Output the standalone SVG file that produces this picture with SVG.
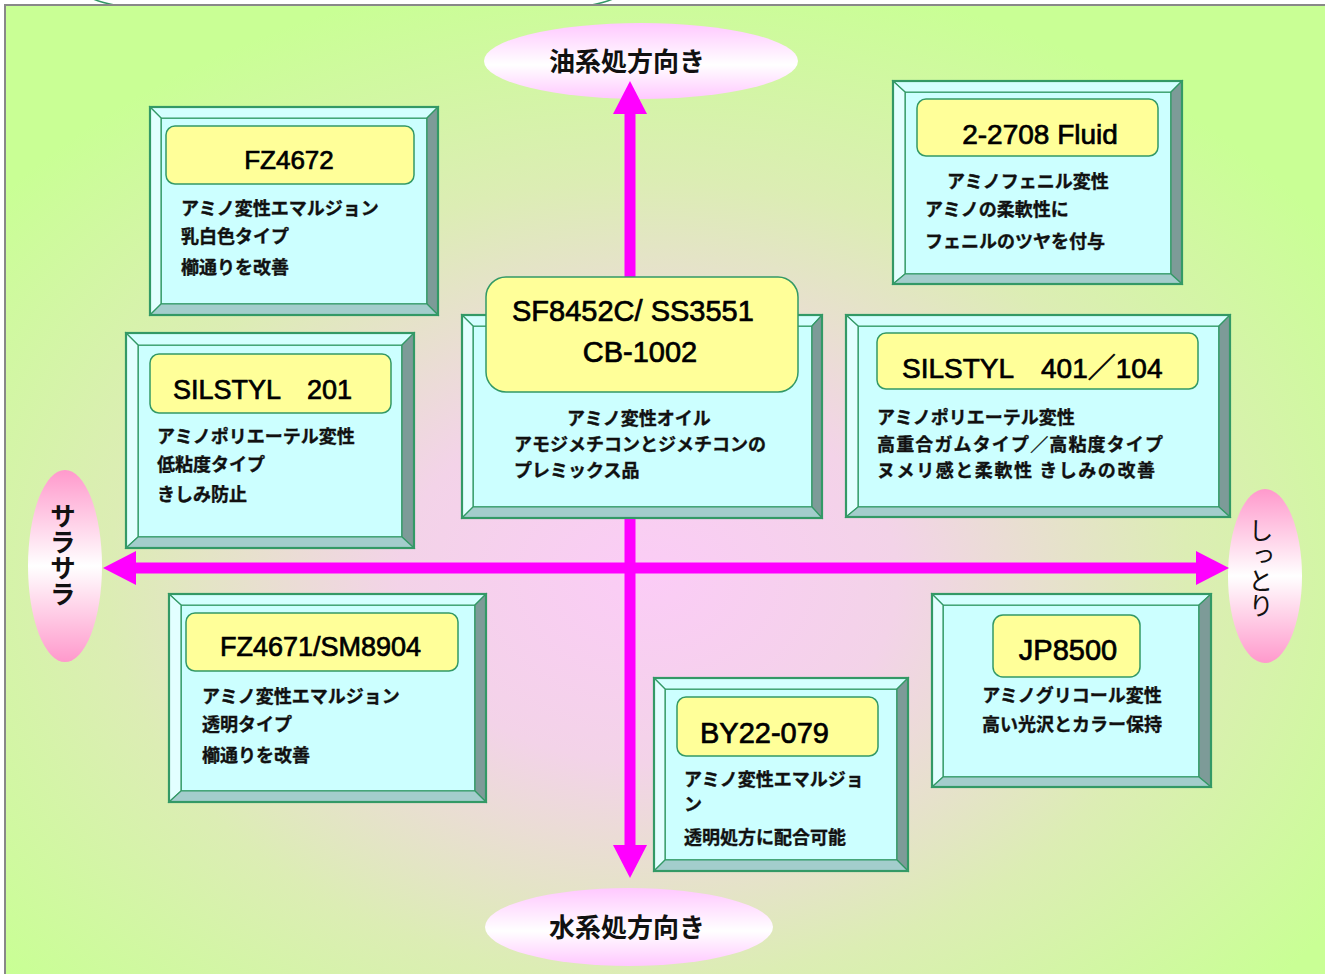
<svg xmlns="http://www.w3.org/2000/svg" width="1325" height="974" viewBox="0 0 1325 974">
<defs>
<radialGradient id="bg" cx="0.48" cy="0.58" r="0.62">
<stop offset="0" stop-color="#fbccf6"/>
<stop offset="0.3" stop-color="#f3d3e8"/>
<stop offset="0.65" stop-color="#dcedb4"/>
<stop offset="1" stop-color="#c9ff95"/>
</radialGradient>
<linearGradient id="ellH" x1="0" y1="0" x2="0" y2="1">
<stop offset="0" stop-color="#ffc8ff"/>
<stop offset="0.55" stop-color="#ffffff"/>
<stop offset="1" stop-color="#ffc8ff"/>
</linearGradient>
<linearGradient id="ellV" x1="0" y1="0" x2="0" y2="1">
<stop offset="0" stop-color="#ff99cc"/>
<stop offset="0.5" stop-color="#ffffff"/>
<stop offset="1" stop-color="#ff99cc"/>
</linearGradient>
<marker id="head" markerUnits="userSpaceOnUse" markerWidth="34" markerHeight="36" viewBox="0 0 34 36" refX="0" refY="18" orient="auto-start-reverse">
<path d="M0,1 L33,18 L0,35 Z" fill="#ff00ff"/>
</marker>
</defs>
<style>
.face{fill:#ccffff;stroke:#339966;stroke-width:1.5}
.bt{fill:#d4ffff;stroke:#339966;stroke-width:1.2}
.bl{fill:#e2ffff;stroke:#339966;stroke-width:1.2}
.br{fill:#7d9b98;stroke:#339966;stroke-width:1.2}
.bb{fill:#a3cdcc;stroke:#339966;stroke-width:1.2}
.outer{fill:none;stroke:#339966;stroke-width:2.2}
.lab{fill:#ffff99;stroke:#339966;stroke-width:1.5}
.ttl{font-family:"Liberation Sans","Noto Sans CJK JP",sans-serif;fill:#000;stroke:#000;stroke-width:0.7}
.body{font-family:"Noto Sans CJK JP",sans-serif;font-weight:bold;font-size:18px;fill:#111;stroke:#111;stroke-width:0.35}
.ell{font-family:"Noto Sans CJK JP",sans-serif;font-weight:bold;fill:#111}
.arrow{stroke:#ff00ff;stroke-width:11;fill:none}
</style>

<g id="background">
<rect x="0" y="0" width="1325" height="974" fill="#ffffff"/>
<ellipse cx="353" cy="-6" rx="265" ry="25" fill="none" stroke="#339966" stroke-width="1.5"/>
<rect x="5" y="5" width="1340" height="990" fill="url(#bg)" stroke="#888888" stroke-width="2"/>
</g>

<g id="n-oil">
<ellipse cx="641" cy="61" rx="157" ry="38" fill="url(#ellH)"/>
<text class="ell" x="627" y="71" font-size="26" text-anchor="middle">油系処方向き</text>
</g>
<g id="n-water">
<ellipse cx="629" cy="927" rx="144" ry="39" fill="url(#ellH)"/>
<text class="ell" x="627" y="937" font-size="26" text-anchor="middle">水系処方向き</text>
</g>
<g id="n-sarasara">
<ellipse cx="65" cy="566" rx="37" ry="96" fill="url(#ellV)"/>
<text class="ell" x="63" y="555" font-size="26" text-anchor="middle" style="writing-mode:vertical-rl">サラサラ</text>
</g>
<g id="n-shittori">
<ellipse cx="1265" cy="576" rx="37" ry="87" fill="url(#ellV)"/>
<text class="ell" x="1261" y="568" font-size="25" text-anchor="middle" style="writing-mode:vertical-rl;font-weight:normal">しっとり</text>
</g>

<g id="connectors">
<line class="arrow" x1="630" y1="114" x2="630" y2="845" marker-start="url(#head)" marker-end="url(#head)"/>
<line class="arrow" x1="136" y1="568" x2="1196" y2="568" marker-start="url(#head)" marker-end="url(#head)"/>
</g>

<g id="n-fz4672">
<rect class="face" x="161" y="118" width="266" height="186"/>
<path class="bt" d="M150,107 L438,107 L427,118 L161,118 Z"/>
<path class="bl" d="M150,107 L161,118 L161,304 L150,315 Z"/>
<path class="br" d="M438,107 L438,315 L427,304 L427,118 Z"/>
<path class="bb" d="M150,315 L161,304 L427,304 L438,315 Z"/>
<rect class="outer" x="150" y="107" width="288" height="208"/>
<rect class="lab" x="166" y="126" width="248" height="58" rx="9"/>
<text class="ttl" x="289" y="169" font-size="26" text-anchor="middle">FZ4672</text>
<text class="body" x="181" y="215">アミノ変性エマルジョン</text>
<text class="body" x="181" y="243">乳白色タイプ</text>
<text class="body" x="181" y="274">櫛通りを改善</text>
</g>

<g id="n-22708">
<rect class="face" x="905" y="92" width="266" height="182"/>
<path class="bt" d="M893,81 L1182,81 L1171,92 L905,92 Z"/>
<path class="bl" d="M893,81 L905,92 L905,274 L893,284 Z"/>
<path class="br" d="M1182,81 L1182,284 L1171,274 L1171,92 Z"/>
<path class="bb" d="M893,284 L905,274 L1171,274 L1182,284 Z"/>
<rect class="outer" x="893" y="81" width="289" height="203"/>
<rect class="lab" x="917" y="99" width="241" height="57" rx="9"/>
<text class="ttl" x="1040" y="144" font-size="28" text-anchor="middle">2-2708 Fluid</text>
<text class="body" x="947" y="188">アミノフェニル変性</text>
<text class="body" x="925" y="216">アミノの柔軟性に</text>
<text class="body" x="925" y="248">フェニルのツヤを付与</text>
</g>

<g id="n-sf8452c">
<rect class="face" x="473" y="326" width="339" height="181"/>
<path class="bt" d="M462,315 L822,315 L812,326 L473,326 Z"/>
<path class="bl" d="M462,315 L473,326 L473,507 L462,518 Z"/>
<path class="br" d="M822,315 L822,518 L812,507 L812,326 Z"/>
<path class="bb" d="M462,518 L473,507 L812,507 L822,518 Z"/>
<rect class="outer" x="462" y="315" width="360" height="203"/>
<rect class="lab" x="486" y="277" width="312" height="115" rx="20"/>
<text class="ttl" x="512" y="321" font-size="29">SF8452C/ SS3551</text>
<text class="ttl" x="640" y="362" font-size="29" text-anchor="middle">CB-1002</text>
<text class="body" x="567" y="425">アミノ変性オイル</text>
<text class="body" x="514" y="451">アモジメチコンとジメチコンの</text>
<text class="body" x="514" y="477">プレミックス品</text>
</g>

<g id="n-silstyl401">
<rect class="face" x="858" y="326" width="361" height="181"/>
<path class="bt" d="M846,315 L1230,315 L1219,326 L858,326 Z"/>
<path class="bl" d="M846,315 L858,326 L858,507 L846,517 Z"/>
<path class="br" d="M1230,315 L1230,517 L1219,507 L1219,326 Z"/>
<path class="bb" d="M846,517 L858,507 L1219,507 L1230,517 Z"/>
<rect class="outer" x="846" y="315" width="384" height="202"/>
<rect class="lab" x="877" y="333" width="321" height="56" rx="9"/>
<text class="ttl" x="902" y="378" font-size="28">SILSTYL　401／104</text>
<text class="body" x="877" y="424">アミノポリエーテル変性</text>
<text class="body" x="877" y="451" textLength="286" lengthAdjust="spacing">高重合ガムタイプ／高粘度タイプ</text>
<text class="body" x="877" y="477" textLength="278" lengthAdjust="spacing">ヌメリ感と柔軟性 きしみの改善</text>
</g>

<g id="n-silstyl201">
<rect class="face" x="138" y="345" width="264" height="192"/>
<path class="bt" d="M126,333 L414,333 L402,345 L138,345 Z"/>
<path class="bl" d="M126,333 L138,345 L138,537 L126,548 Z"/>
<path class="br" d="M414,333 L414,548 L402,537 L402,345 Z"/>
<path class="bb" d="M126,548 L138,537 L402,537 L414,548 Z"/>
<rect class="outer" x="126" y="333" width="288" height="215"/>
<rect class="lab" x="150" y="354" width="241" height="59" rx="9"/>
<text class="ttl" x="173" y="399" font-size="27">SILSTYL　201</text>
<text class="body" x="157" y="443">アミノポリエーテル変性</text>
<text class="body" x="157" y="471">低粘度タイプ</text>
<text class="body" x="157" y="501">きしみ防止</text>
</g>

<g id="n-fz4671">
<rect class="face" x="181" y="605" width="294" height="186"/>
<path class="bt" d="M169,594 L486,594 L475,605 L181,605 Z"/>
<path class="bl" d="M169,594 L181,605 L181,791 L169,802 Z"/>
<path class="br" d="M486,594 L486,802 L475,791 L475,605 Z"/>
<path class="bb" d="M169,802 L181,791 L475,791 L486,802 Z"/>
<rect class="outer" x="169" y="594" width="317" height="208"/>
<rect class="lab" x="186" y="613" width="272" height="58" rx="9"/>
<text class="ttl" x="220" y="656" font-size="27">FZ4671/SM8904</text>
<text class="body" x="202" y="703">アミノ変性エマルジョン</text>
<text class="body" x="202" y="731">透明タイプ</text>
<text class="body" x="202" y="762">櫛通りを改善</text>
</g>

<g id="n-by22079">
<rect class="face" x="665" y="689" width="232" height="171"/>
<path class="bt" d="M654,678 L908,678 L897,689 L665,689 Z"/>
<path class="bl" d="M654,678 L665,689 L665,860 L654,871 Z"/>
<path class="br" d="M908,678 L908,871 L897,860 L897,689 Z"/>
<path class="bb" d="M654,871 L665,860 L897,860 L908,871 Z"/>
<rect class="outer" x="654" y="678" width="254" height="193"/>
<rect class="lab" x="677" y="697" width="201" height="59" rx="9"/>
<text class="ttl" x="700" y="743" font-size="29">BY22-079</text>
<text class="body" x="684" y="786">アミノ変性エマルジョ</text>
<text class="body" x="684" y="811">ン</text>
<text class="body" x="684" y="844">透明処方に配合可能</text>
</g>

<g id="n-jp8500">
<rect class="face" x="943" y="605" width="256" height="172"/>
<path class="bt" d="M932,594 L1211,594 L1199,605 L943,605 Z"/>
<path class="bl" d="M932,594 L943,605 L943,777 L932,787 Z"/>
<path class="br" d="M1211,594 L1211,787 L1199,777 L1199,605 Z"/>
<path class="bb" d="M932,787 L943,777 L1199,777 L1211,787 Z"/>
<rect class="outer" x="932" y="594" width="279" height="193"/>
<rect class="lab" x="993" y="615" width="147" height="62" rx="10"/>
<text class="ttl" x="1068" y="660" font-size="29" text-anchor="middle">JP8500</text>
<text class="body" x="1072" y="702" text-anchor="middle">アミノグリコール変性</text>
<text class="body" x="1072" y="731" text-anchor="middle">高い光沢とカラー保持</text>
</g>
</svg>
